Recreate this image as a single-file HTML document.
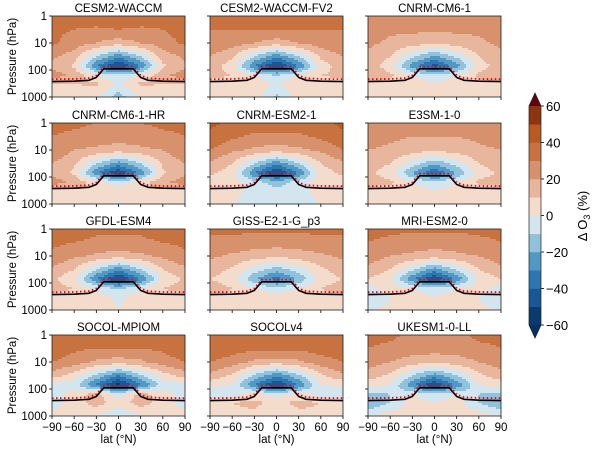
<!DOCTYPE html>
<html><head><meta charset="utf-8"><style>
body{margin:0;background:#fff}
svg text{font-family:"Liberation Sans",sans-serif;fill:#000}
</style></head><body>
<svg id="fig" width="600" height="451" viewBox="0 0 600 451"></svg>
<script>
const models=["CESM2-WACCM","CESM2-WACCM-FV2","CNRM-CM6-1","CNRM-CM6-1-HR","CNRM-ESM2-1","E3SM-1-0","GFDL-ESM4","GISS-E2-1-G_p3","MRI-ESM2-0","SOCOL-MPIOM","SOCOLv4","UKESM1-0-LL"];
const lats=[-90,-60,-30,0,30,60,90];
const logp=[0,0.5,1,1.5,1.85,2.2,2.5,3];
const g0=[[35,35,38,40,38,35,38],[32,30,28,30,28,30,35],[32,25,20,15,20,25,32],[22,15,-10,-28,-10,15,22],[18,8,-30,-52,-30,8,18],[25,18,0,-8,0,18,25],[10,10,12,-2,12,10,10],[5,5,2,-15,2,5,5]];
const g1=[[32,35,38,38,38,35,32],[30,30,30,30,30,30,30],[28,25,20,15,20,25,28],[20,12,-10,-28,-10,12,20],[15,5,-30,-52,-30,5,15],[12,10,0,-10,0,10,12],[5,8,8,-2,8,8,5],[0,5,5,-12,5,5,0]];
const g2=[[28,28,28,28,28,28,28],[25,22,22,22,22,22,25],[22,18,15,12,15,18,22],[18,10,-8,-22,-8,10,18],[15,5,-25,-45,-25,5,15],[18,12,0,-8,0,12,18],[8,8,8,0,8,8,8],[5,5,5,0,5,5,5]];
const g3=[[32,32,30,30,30,32,32],[30,28,25,25,25,28,30],[28,20,18,15,18,20,28],[20,12,-10,-25,-10,12,20],[18,8,-28,-50,-28,8,18],[25,18,5,-5,5,18,25],[8,8,8,5,8,8,8],[5,5,5,-2,5,5,5]];
const g4=[[42,38,35,35,35,38,42],[38,32,28,28,28,32,38],[30,22,18,15,18,22,30],[18,10,-10,-28,-10,10,18],[12,5,-30,-52,-30,5,12],[5,5,-5,-15,-5,5,5],[0,2,-2,-8,-2,2,0],[0,0,-2,-10,-2,0,0]];
const g5=[[28,28,25,25,25,28,28],[25,22,20,20,20,22,25],[20,18,15,12,15,18,20],[15,10,-5,-18,-5,10,15],[12,5,-20,-40,-20,5,12],[15,12,0,-8,0,12,15],[5,5,5,0,5,5,5],[2,2,2,2,2,2,2]];
const g6=[[38,35,32,32,32,35,38],[32,30,28,28,28,30,32],[28,22,18,15,18,22,28],[18,10,-10,-28,-10,10,18],[12,2,-30,-52,-30,2,12],[15,10,-2,-12,-2,10,15],[5,5,5,-2,5,5,5],[5,5,5,0,5,5,5]];
const g7=[[32,32,32,32,32,32,32],[28,28,25,25,25,28,28],[22,18,15,12,15,18,22],[15,8,-5,-15,-5,8,15],[10,5,-18,-35,-18,5,10],[15,10,0,-8,0,10,15],[8,8,8,5,8,8,8],[5,5,5,5,5,5,5]];
const g8=[[32,32,32,32,32,32,32],[30,28,25,25,25,28,30],[25,20,18,15,18,20,25],[18,10,-8,-25,-8,10,18],[10,2,-28,-50,-28,2,10],[-5,5,0,-8,0,5,-5],[-10,0,5,0,5,0,-10],[0,2,5,2,5,2,0]];
const g9=[[40,38,35,35,35,38,40],[38,32,30,30,30,32,38],[30,25,18,15,18,25,30],[15,5,-12,-30,-12,5,15],[-5,-5,-32,-55,-32,-5,-5],[-5,5,15,-5,15,5,-5],[-5,5,15,5,15,5,-5],[5,5,0,-10,0,5,5]];
const g10=[[40,40,40,40,40,40,40],[38,35,32,32,32,35,38],[30,25,18,15,18,25,30],[18,8,-12,-28,-12,8,18],[2,0,-30,-52,-30,0,2],[-10,-5,5,-5,5,-5,-10],[5,10,12,8,12,10,5],[5,8,8,0,8,8,5]];
const g11=[[32,32,28,28,28,32,32],[30,28,25,25,25,28,30],[25,20,15,12,15,20,25],[15,8,-10,-25,-10,8,15],[5,0,-28,-50,-28,0,5],[-15,-10,0,-8,0,-10,-15],[-20,-10,5,0,5,-10,-20],[0,5,5,0,5,5,0]];
const grids=[g0,g1,g2,g3,g4,g5,g6,g7,g8,g9,g10,g11];
const tpLats=[-90,-60,-40,-30,-20,20,30,40,60,90];
const tpBlack=[270,260,240,190,90,90,190,240,260,270];
const tpRed=[220,215,200,160,75,75,160,200,215,220];
const cbTicks=[60,40,20,0,-20,-40,-60];
const cbLabels=["60","40","20","0","−20","−40","−60"];
const levels=[-60,-50,-40,-30,-20,-10,0,10,20,30,40,50,60];
const colors=["#0b3a6e","#1a5796","#2e76b1","#5198c5","#91c2dc","#d3e5ef","#f4dccd","#e7b69c","#d7916d","#c8733f","#b85b22","#8e3510"];
const xTicks=[-90,-60,-30,0,30,60,90];
const xTickLabels=["−90","−60","−30","0","30","60","90"];
const yTicks=[1,10,100,1000];

const NS="http://www.w3.org/2000/svg";
const fig=document.getElementById('fig');
function mk(tag,attrs,parent){const e=document.createElementNS(NS,tag);for(const k in attrs)e.setAttribute(k,attrs[k]);(parent||fig).appendChild(e);return e;}
function colorOf(v){for(let i=0;i<12;i++){if(v<levels[i+1])return colors[i];}return colors[11];}
function interp1(xs,ys,x){for(let i=0;i<xs.length-1;i++){if(x<=xs[i+1]){const t=(x-xs[i])/(xs[i+1]-xs[i]);return ys[i]+t*(ys[i+1]-ys[i]);}}return ys[ys.length-1];}
function field(g,lat,lp){
  let j=0;while(j<logp.length-2&&lp>logp[j+1])j++;
  const t=(lp-logp[j])/(logp[j+1]-logp[j]);
  const a=interp1(lats,g[j],lat),b=interp1(lats,g[j+1],lat);
  return a+(b-a)*t;
}
const colX=[52,210,368],rowY=[16,123,229,335],PW=133,PH=81;
grids.forEach((g,k)=>{
  const r=Math.floor(k/3),c=k%3,x0=colX[c],y0=rowY[r];
  const xs=lat=>x0+(lat+90)/180*PW;
  const ys=p=>y0+Math.log10(p)/3*PH;
  const grp=mk('g',{});
  
  
  const cell=2;
  for(let px=0;px<PW;px+=cell){for(let py=0;py<PH;py+=cell){
    const lat=-90+(px+cell/2)/PW*180, lp=(py+cell/2)/PH*3;
    const rc=mk('rect',{x:x0+px,y:y0+py,width:Math.min(cell,PW-px)+0.3,height:Math.min(cell,PH-py)+0.3,fill:colorOf(field(g,lat,lp))},grp);
    
    
  }}
  let d='';tpLats.forEach((l,i)=>{d+=(i?'L':'M')+xs(l).toFixed(1)+','+ys(tpBlack[i]).toFixed(1);});
  const bl=mk('path',{d:d,fill:'none',stroke:'#000','stroke-width':1.6},grp);
  
  
  d='';tpLats.forEach((l,i)=>{d+=(i?'L':'M')+xs(l).toFixed(1)+','+ys(tpRed[i]).toFixed(1);});
  const rl=mk('path',{d:d,fill:'none',stroke:'#e8000b','stroke-width':1.8,'stroke-dasharray':'1.5,2.5'},grp);
  
  
  const fr=mk('rect',{x:x0,y:y0,width:PW,height:PH,fill:'none',stroke:'#222','stroke-width':0.8},grp);
  
  
  const t=mk('text',{x:x0+PW/2,y:y0-4,'text-anchor':'middle','font-size':11.5},grp);
  t.textContent=models[k];
  
  
  yTicks.forEach(p=>{
    mk('line',{x1:x0-3,x2:x0,y1:ys(p),y2:ys(p),stroke:'#000','stroke-width':0.8},grp);
    if(c===0){const tl=mk('text',{x:x0-5,y:ys(p)+4,'text-anchor':'end','font-size':11.5},grp);tl.textContent=p;
      
      }
  });
  xTicks.forEach((l,i)=>{
    mk('line',{x1:xs(l),x2:xs(l),y1:y0+PH,y2:y0+PH+3,stroke:'#000','stroke-width':0.8},grp);
    if(r===3){const tl=mk('text',{x:xs(l),y:y0+PH+15,'text-anchor':'middle','font-size':11.5},grp);tl.textContent=xTickLabels[i];
      
      }
  });
  if(c===0){const yl=mk('text',{x:0,y:0,'text-anchor':'middle','font-size':11.5,transform:`translate(16,${y0+PH/2}) rotate(-90)`},grp);yl.textContent='Pressure (hPa)';
    
    }
  if(r===3){const xl=mk('text',{x:x0+PW/2,y:443,'text-anchor':'middle','font-size':11.5},grp);xl.textContent='lat (°N)';
    
    }
});
const cb=mk('g',{});


const cbx=529,cbw=12,cby=v=>215.5-v*1.825;
for(let i=0;i<12;i++){
  const s=mk('rect',{x:cbx,y:cby(levels[i+1]),width:cbw,height:cby(levels[i])-cby(levels[i+1])+0.3,fill:colors[i]},cb);
  
  
}
mk('path',{d:`M${cbx},${cby(60)}L${cbx+cbw/2},${cby(60)-13}L${cbx+cbw},${cby(60)}Z`,fill:'#67000d'},cb);
mk('path',{d:`M${cbx},${cby(-60)}L${cbx+cbw/2},${cby(-60)+13}L${cbx+cbw},${cby(-60)}Z`,fill:'#053061'},cb);
mk('path',{d:`M${cbx},${cby(60)}L${cbx+cbw/2},${cby(60)-13}L${cbx+cbw},${cby(60)}L${cbx+cbw},${cby(-60)}L${cbx+cbw/2},${cby(-60)+13}L${cbx},${cby(-60)}Z`,fill:'none',stroke:'#222','stroke-width':0.7},cb);
cbTicks.forEach((v,i)=>{
  mk('line',{x1:cbx+cbw,x2:cbx+cbw+3,y1:cby(v),y2:cby(v),stroke:'#000','stroke-width':0.8},cb);
  const t=mk('text',{x:cbx+cbw+5,y:cby(v)+5,'font-size':13},cb);t.textContent=cbLabels[i];
  
  
});
const cl=mk('text',{x:0,y:0,'text-anchor':'middle','font-size':13,transform:'translate(587,216) rotate(-90)'},cb);
cl.innerHTML='Δ O<tspan font-size="9" dy="3">3</tspan><tspan dy="-3"> (%)</tspan>';


</script>
</body></html>
